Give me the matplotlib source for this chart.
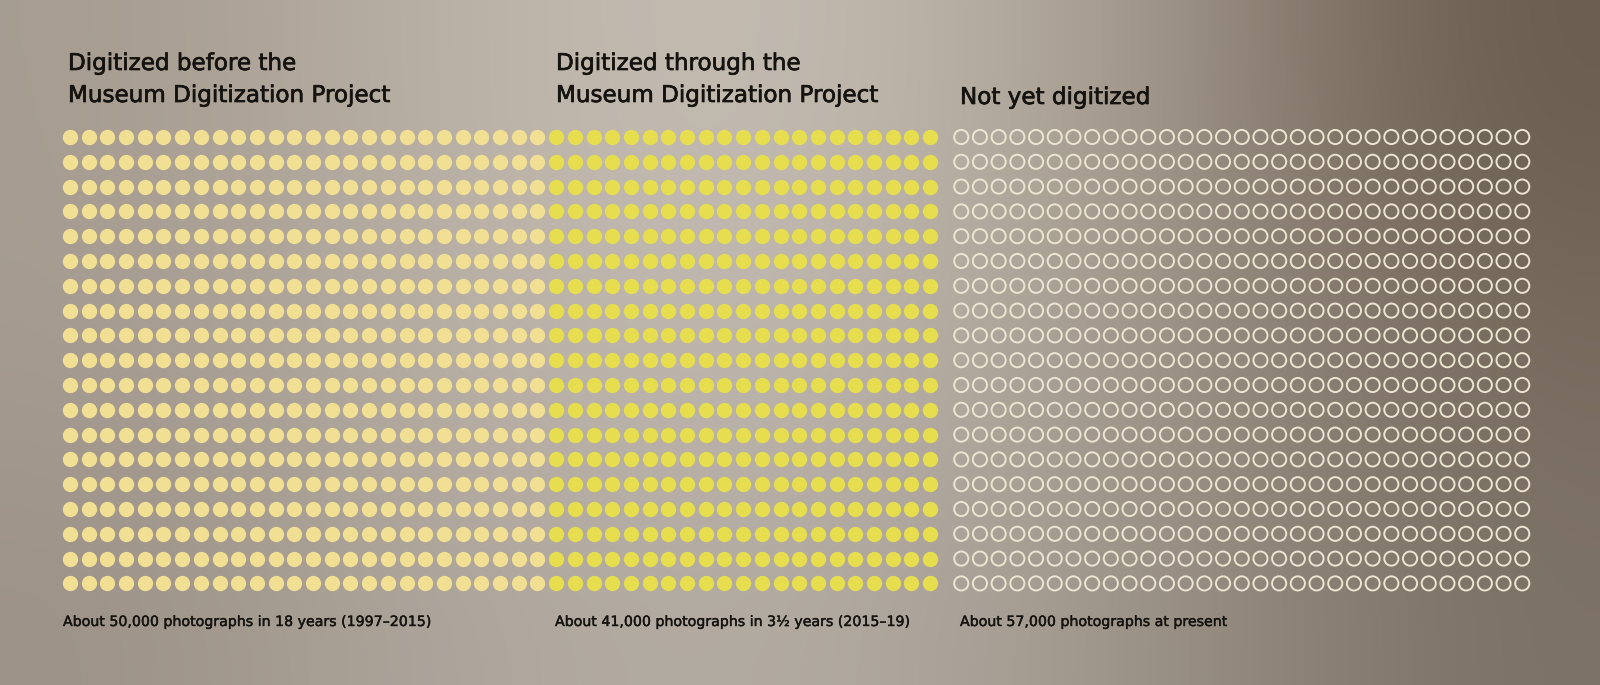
import numpy as np
import matplotlib
matplotlib.use("Agg")
import matplotlib.pyplot as plt
import matplotlib.patheffects as pe

# ---------------- data ----------------
titles = [["Digitized before the", "Museum Digitization Project"],
          ["Digitized through the", "Museum Digitization Project"],
          ["Not yet digitized"]]
captions = ["About 50,000 photographs in 18 years (1997–2015)",
            "About 41,000 photographs in 3½ years (2015–19)",
            "About 57,000 photographs at present"]
columns = [26, 21, 31]          # dot columns per group
rows = 19                       # dot rows (same for all groups)

# ---------------- style / layout ----------------
W, H, DPI = 1600, 685, 100
X0, DX = 70, 18.7               # pixel x of first column, column pitch
Y0, DY = 137, 24.8              # pixel y of first row, row pitch
gaps = [0, 0, 0.66]             # extra column gap before each group
fills = ["#f1df94", "#e6de4e", "none"]
edges = ["none", "none", "#ece5d2"]
title_x = [68, 556, 960]
title_base = [[70, 102], [70, 102], [104]]
cap_x = [63, 555, 960]
cap_base = 626
TXT = "#15130f"
FONT = "DejaVu Sans"

fig = plt.figure(figsize=(W / DPI, H / DPI), dpi=DPI)

# background wall gradient (photo lighting)
bg = fig.add_axes([0, 0, 1, 1], zorder=0)
grid = np.array([
    [[166, 156, 144], [190, 181, 170], [198, 191, 181], [170, 160, 147], [104, 92, 78]],
    [[165, 155, 144], [188, 180, 169], [194, 187, 178], [166, 156, 144], [118, 106, 93]],
    [[156, 146, 136], [176, 168, 158], [180, 173, 164], [160, 151, 140], [124, 113, 101]],
], dtype=float) / 255.0
bg.imshow(grid, extent=[0, W, H, 0], aspect="auto", interpolation="bicubic")
bg.set_xlim(0, W); bg.set_ylim(H, 0)
bg.axis("off")

ax = fig.add_axes([0, 0, 1, 1], zorder=1)
ax.patch.set_alpha(0)
ax.set_xlim(-X0 / DX, (W - X0) / DX)
ax.set_ylim((H - Y0) / DY, -Y0 / DY)
ax.axis("off")

start = 0.0
for g, ncol in enumerate(columns):
    start += gaps[g]
    cx, cy = np.meshgrid(start + np.arange(ncol), np.arange(rows))
    if fills[g] == "none":
        ax.scatter(cx.ravel(), cy.ravel(), s=104, facecolors="none",
                   edgecolors=edges[g], linewidths=1.4)
    else:
        ax.scatter(cx.ravel(), cy.ravel(), s=122, c=fills[g], linewidths=0)
    start += ncol

medium = [pe.withStroke(linewidth=0.5, foreground=TXT)]
for g in range(3):
    for line, base in zip(titles[g], title_base[g]):
        fig.text(title_x[g] / W, 1 - base / H, line, fontsize=16.6,
                 family=FONT, color=TXT, va="baseline", ha="left", zorder=3,
                 path_effects=medium)
    fig.text(cap_x[g] / W, 1 - cap_base / H, captions[g], fontsize=10.2,
             family=FONT, color=TXT, va="baseline", ha="left", zorder=3,
             path_effects=[pe.withStroke(linewidth=0.3, foreground=TXT)])

fig.savefig("out.png", dpi=DPI)
